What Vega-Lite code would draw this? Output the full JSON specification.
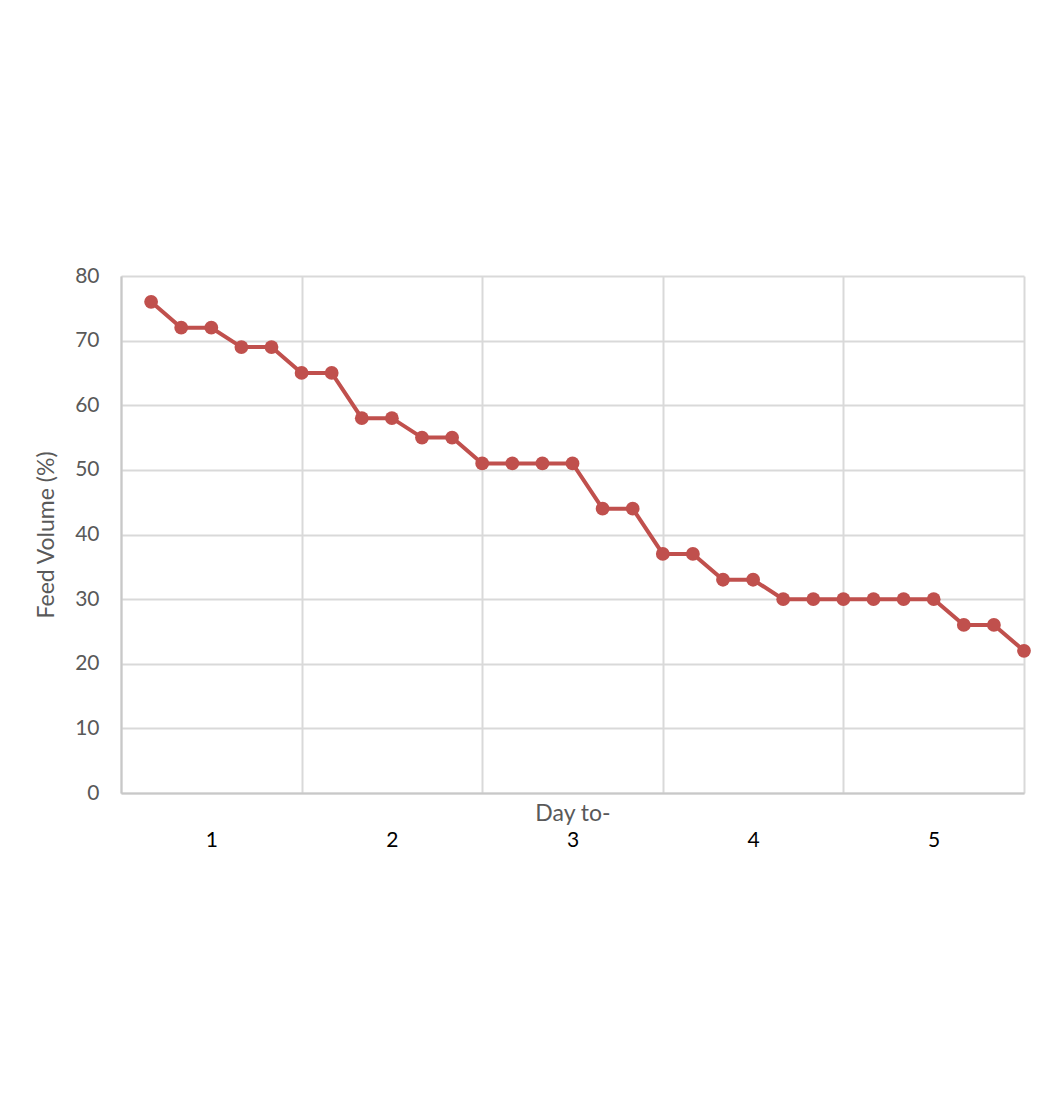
{
  "$schema": "https://vega.github.io/schema/vega-lite/v6.json",
  "autosize": "none",
  "width": 903,
  "height": 517,
  "padding": {"left": 121, "top": 276, "right": 31, "bottom": 321},
  "background": "white",
  "config": {
    "font": "Lato",
    "view": {"stroke": null},
    "axis": {"gridColor": "#d9d9d9", "gridWidth": 2, "domainColor": "#c8c8c8", "domainWidth": 2, "ticks": false}
  },
  "data": {
    "values": [
      {"i": 1, "v": 76}, {"i": 2, "v": 72}, {"i": 3, "v": 72}, {"i": 4, "v": 69}, {"i": 5, "v": 69},
      {"i": 6, "v": 65}, {"i": 7, "v": 65}, {"i": 8, "v": 58}, {"i": 9, "v": 58}, {"i": 10, "v": 55},
      {"i": 11, "v": 55}, {"i": 12, "v": 51}, {"i": 13, "v": 51}, {"i": 14, "v": 51}, {"i": 15, "v": 51},
      {"i": 16, "v": 44}, {"i": 17, "v": 44}, {"i": 18, "v": 37}, {"i": 19, "v": 37}, {"i": 20, "v": 33},
      {"i": 21, "v": 33}, {"i": 22, "v": 30}, {"i": 23, "v": 30}, {"i": 24, "v": 30}, {"i": 25, "v": 30},
      {"i": 26, "v": 30}, {"i": 27, "v": 30}, {"i": 28, "v": 26}, {"i": 29, "v": 26}, {"i": 30, "v": 22}
    ]
  },
  "encoding": {
    "x": {
      "field": "i",
      "type": "quantitative",
      "scale": {"domain": [0, 30], "nice": false, "zero": false},
      "axis": {
        "values": [0, 3, 6, 9, 12, 15, 18, 21, 24, 27, 30],
        "gridOpacity": {"condition": {"test": "datum.value % 6 === 0", "value": 1}, "value": 0},
        "labelExpr": "datum.value % 6 === 3 ? '' + ((datum.value + 3) / 6) : ''",
        "labelFontSize": 21,
        "labelColor": "#000000",
        "labelPadding": 36,
        "labelFlush": false,
        "labelOverlap": false,
        "title": "Day to-",
        "titleFontSize": 23,
        "titleFontWeight": "normal",
        "titleColor": "#595959",
        "titleY": 9,
        "titleBaseline": "top"
      }
    },
    "y": {
      "field": "v",
      "type": "quantitative",
      "scale": {"domain": [0, 80], "nice": false},
      "axis": {
        "values": [0, 10, 20, 30, 40, 50, 60, 70, 80],
        "labelFontSize": 21,
        "labelColor": "#595959",
        "labelPadding": 22,
        "title": "Feed Volume (%)",
        "titleFontSize": 23,
        "titleFontWeight": "normal",
        "titleColor": "#595959",
        "titlePadding": 16
      }
    }
  },
  "layer": [
    {"mark": {"type": "line", "color": "#c0504d", "strokeWidth": 4}},
    {"mark": {"type": "point", "shape": "circle", "filled": true, "opacity": 1, "color": "#c0504d", "size": 190, "strokeWidth": 0}}
  ]
}
